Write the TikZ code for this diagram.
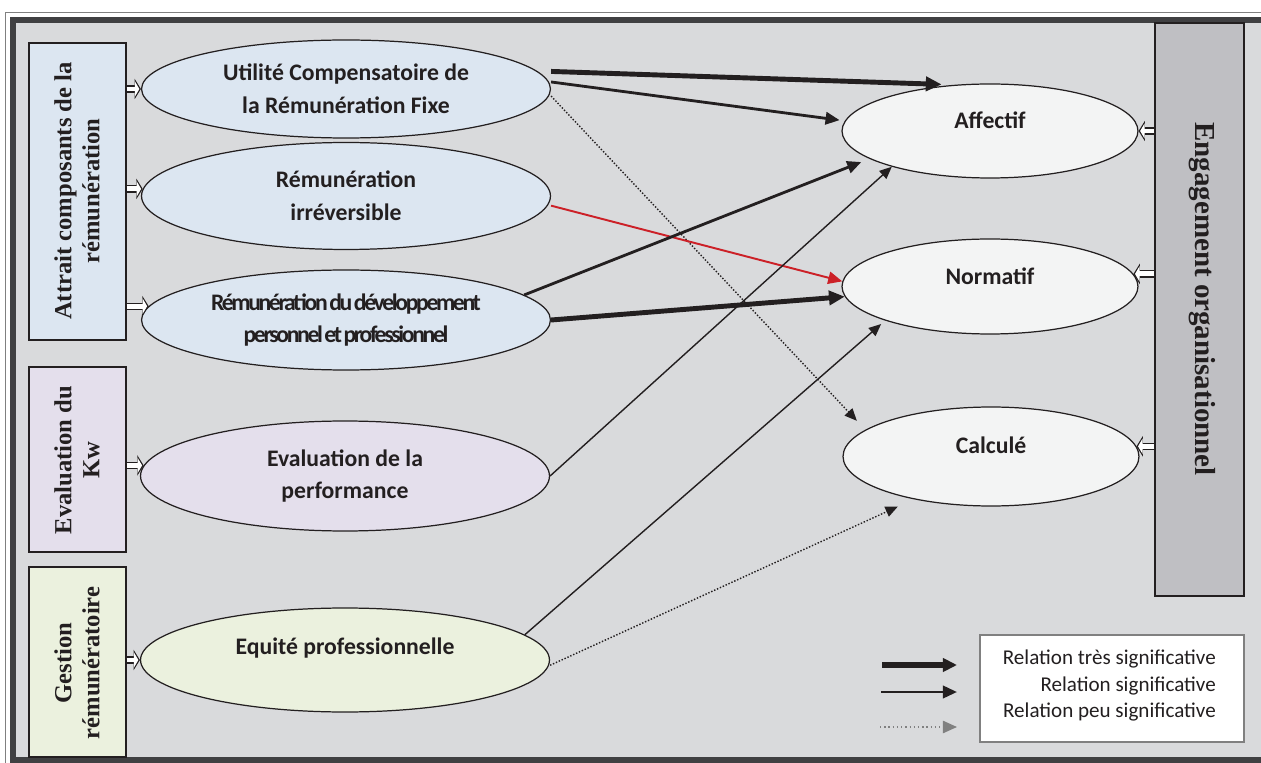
\documentclass[tikz,border=0pt]{standalone}
\usepackage{fontspec}
\setmainfont{Carlito}
\newfontfamily\cambria{Liberation Serif}
\newfontfamily\serree{Carlito}[LetterSpace=-10,WordSpace=0.5]
\usetikzlibrary{arrows.meta,shapes.geometric}
\definecolor{fond}{HTML}{D9DADC}
\definecolor{cadre}{HTML}{404042}
\definecolor{txt}{HTML}{231F20}
\definecolor{bleu}{HTML}{DCE6F1}
\definecolor{lavande}{HTML}{E4DFEC}
\definecolor{vert}{HTML}{EBF1DE}
\definecolor{blanc}{HTML}{F3F4F4}
\definecolor{gris}{HTML}{BFBFC3}
\definecolor{rouge}{HTML}{CC2027}
\begin{document}
\begin{tikzpicture}[x=0.02cm,y=-0.02cm,
  boite/.style={draw=txt,line width=0.8pt,inner sep=0,minimum width=1.94cm},
  cote/.style={align=center,text=txt,font=\cambria\bfseries\fontsize{14}{16}\selectfont},
  facteur/.style={ellipse,draw=txt,line width=0.7pt,inner sep=0,align=center,text=txt,
    font=\bfseries\fontsize{13.5}{18.7}\selectfont,minimum width=8.18cm},
  dim/.style={ellipse,draw=txt,line width=0.7pt,inner sep=0,fill=blanc,text=txt,
    font=\bfseries\fontsize{13.5}{16}\selectfont,minimum width=5.92cm,
    text height=10pt,text depth=12.4pt},
  hollow/.style={draw=txt,line width=4.2pt,-{Triangle[length=3.6pt,width=11.5pt]},
    postaction={draw=white,line width=2.8pt,shorten >=0.9pt,-{Triangle[length=2.6pt,width=8.8pt]}}},
  tres/.style={draw=txt,line width=2.8pt,-{Triangle[length=9pt,width=8pt]}},
  sig/.style={draw=txt,line width=1.6pt,-{Triangle[length=8pt,width=7pt]}},
  fin/.style={draw=txt,line width=0.8pt,-{Triangle[length=7pt,width=6pt]}},
  peu/.style={draw=txt,line width=0.8pt,dash pattern=on 0.8pt off 1pt,-{Triangle[length=7pt,width=6pt]}},
  rge/.style={draw=rouge,line width=1.1pt,-{Triangle[length=8pt,width=7pt]}}]
\useasboundingbox (0,0) rectangle (1261,763);
\clip (0,0) rectangle (1261,763);
% fond et cadre
\fill[fond] (13,20) rectangle (1261,757);
\draw[gray,line width=0.6pt] (5.5,12.3) rectangle (1300,800);
\draw[cadre,line width=3.6pt] (13.3,20) rectangle (1300,760);
% dimensions de la remuneration
\node[boite,fill=bleu,minimum height=5.94cm] (attrait) at (77.5,191.5) {};
\node[cote,rotate=90] at (77,191) {Attrait composants de la\\rémunération};
\node[boite,fill=lavande,minimum height=3.7cm] (kw) at (77.5,459.5) {};
\node[cote,rotate=90] at (77,460) {Evaluation du\\Kw};
\node[boite,fill=vert,minimum height=3.8cm] (gestion) at (77.5,662) {};
\node[cote,rotate=90] at (77,663) {Gestion\\rémunératoire};
% engagement
\node[boite,fill=gris,minimum width=1.78cm,minimum height=11.46cm] (engage) at (1199.5,309.5) {};
\node[cote,rotate=-90,font=\cambria\bfseries\fontsize{16.5}{18}\selectfont] at (1202,299) {Engagement organisationnel};
% facteurs
\node[facteur,fill=bleu,minimum height=1.96cm] (ucrf) at (346,89) {Utilité Compensatoire de\\la Rémunération Fixe};
\node[facteur,fill=bleu,minimum height=2.14cm] (irrev) at (346,196) {Rémunération\\irréversible};
\node[facteur,fill=bleu,minimum height=2cm,
  font=\serree\bfseries\fontsize{13.5}{18.7}\selectfont] (devel) at (346,320)
  {Rémunération du développement\\personnel et professionnel};
\node[facteur,fill=lavande,minimum height=2.2cm] (perf) at (345,476) {Evaluation de la\\performance};
\node[facteur,fill=vert,minimum height=2.08cm,text height=10pt,text depth=15.8pt] (equite) at (345,660) {Equité professionnelle};
\node[dim,minimum height=1.88cm] (aff) at (990,131) {Affectif};
\node[dim,minimum height=1.9cm] (norm) at (990,286.5) {Normatif};
\node[dim,minimum height=1.98cm,text depth=13.4pt] (calc) at (991,456.5) {Calculé};
% fleches creuses
\draw[hollow] (attrait.east |- ucrf.west) -- (ucrf.west);
\draw[hollow] (attrait.east |- irrev.178) -- (irrev.178);
\draw[hollow] (attrait.east |- devel.176) -- (devel.176);
\draw[hollow] (kw.east |- perf.177) -- (perf.177);
\draw[hollow] (gestion.east |- equite.west) -- (equite.west);
\draw[hollow] (engage.west |- aff.east) -- (aff.east);
\draw[hollow] (engage.west |- norm.5) -- (norm.5);
\draw[hollow] (engage.west |- calc.4) -- (calc.4);
% relations
\draw[tres,shorten >=7pt] ([yshift=10pt]ucrf.east) -- (aff.128);
\draw[sig,shorten >=3pt] ([yshift=4pt]ucrf.east) -- (aff.176);
\draw[peu,shorten >=7pt] ([yshift=-4pt]ucrf.east) -- (calc.168);
\draw[rge] ([yshift=-5.5pt]irrev.east) -- (norm.178);
\draw[sig,shorten >=5pt] (devel.8) -- (aff.193);
\draw[tres] (devel.east) -- (norm.184);
\draw[fin] (perf.east) -- (aff.200);
\draw[fin,shorten >=3pt] (equite.8) -- (norm.198);
\draw[peu,shorten >=10pt] ([yshift=-3pt]equite.east) -- (calc.209);
% legende
\node[draw=gray,line width=1pt,fill=white,minimum width=5.28cm,minimum height=2.14cm,inner sep=0] (legende) at (1112,688.5) {};
\node[align=right,anchor=east,text=txt,font=\fontsize{12}{15}\selectfont] at (1222,685.5)
  {Relation très significative\\Relation significative\\Relation peu significative};
\draw[draw=txt,line width=3.2pt,-{Triangle[length=8pt,width=7.5pt]}] (882,665) -- (957,665);
\draw[sig] (881,692) -- (957,692);
\draw[draw=gray,line width=0.8pt,dash pattern=on 0.8pt off 1.6pt,-{Triangle[length=8pt,width=7pt]}] (880,727) -- (957,727);
\end{tikzpicture}
\end{document}
